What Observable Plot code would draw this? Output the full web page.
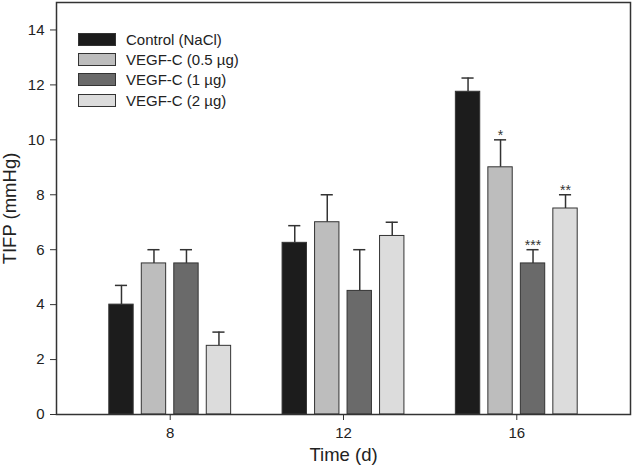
<!DOCTYPE html>
<html>
<head>
<meta charset="utf-8">
<script src="https://cdn.jsdelivr.net/npm/d3@7"></script>
<script src="https://cdn.jsdelivr.net/npm/@observablehq/plot@0.6"></script>
<style>
  html, body { margin: 0; padding: 0; background: #fff; }
  #wrap { position: relative; width: 633px; height: 468px; font-family: "Liberation Sans", Arial, sans-serif; }
  #legend { position: absolute; left: 78px; top: 29px; font-size: 15px; color: #222; }
  #legend .row { display: flex; align-items: center; height: 20.3px; }
  #legend .sw { width: 36px; height: 11px; border: 1px solid #333; margin-right: 10px; }
</style>
</head>
<body>
<div id="wrap"><div id="legend"></div></div>
<script>
// ---- data ----
const days = [8, 12, 16];
const groups = ["Control (NaCl)", "VEGF-C (0.5 µg)", "VEGF-C (1 µg)", "VEGF-C (2 µg)"];
const colors = ["#1c1c1c", "#bdbdbd", "#6a6a6a", "#dcdcdc"];
const control  = [4.0, 6.25, 11.75];
const vegf05   = [5.5, 7.0, 9.0];
const vegf1    = [5.5, 4.5, 5.5];
const vegf2    = [2.5, 6.5, 7.5];
const controlErr = [0.7, 0.625, 0.5];
const vegf05Err  = [0.5, 1.0, 1.0];
const vegf1Err   = [0.5, 1.5, 0.5];
const vegf2Err   = [0.5, 0.5, 0.5];
const controlSig = ["", "", ""];
const vegf05Sig  = ["", "", "*"];
const vegf1Sig   = ["", "", "***"];
const vegf2Sig   = ["", "", "**"];
const yTicks = [0, 2, 4, 6, 8, 10, 12, 14];
const xTicks = [8, 12, 16];

// ---- table ----
const values = [control, vegf05, vegf1, vegf2];
const errs = [controlErr, vegf05Err, vegf1Err, vegf2Err];
const sigs = [controlSig, vegf05Sig, vegf1Sig, vegf2Sig];
const rows = [];
groups.forEach((g, i) => days.forEach((d, j) => rows.push({
  day: d, group: g, i, value: values[i][j], upper: values[i][j] + errs[i][j], sig: sigs[i][j]
})));

const step = 0.75, half = 0.28125, cap = 0.14;
const cx = d => d.day + (d.i - 1.5) * step;

const chart = Plot.plot({
  width: 633,
  height: 468,
  marginLeft: 56,
  marginRight: 3,
  marginTop: 2,
  marginBottom: 54,
  style: { fontFamily: "Liberation Sans, Arial, sans-serif", fontSize: "15px", color: "#222", background: "#fff" },
  x: { type: "linear", domain: [5.375, 18.625] },
  y: { domain: [0, 15] },
  color: { domain: groups, range: colors },
  marks: [
    Plot.ruleX(rows, { x: cx, y1: "value", y2: "upper", stroke: "#333", strokeWidth: 1.5 }),
    Plot.ruleY(rows, { y: "upper", x1: d => cx(d) - cap, x2: d => cx(d) + cap, stroke: "#333", strokeWidth: 1.5 }),
    Plot.rectY(rows, { x1: d => cx(d) - half, x2: d => cx(d) + half, y1: 0, y2: "value", fill: "group", stroke: "#333", strokeWidth: 1 }),
    Plot.text(rows, { x: cx, y: "upper", text: "sig", dy: 0, lineAnchor: "bottom", fontSize: 14, fill: "#333" }),
    Plot.frame({ stroke: "#333", strokeWidth: 1.5 }),
    Plot.axisY({ ticks: yTicks, tickSize: 6, tickPadding: 6, stroke: "#333", label: "TIFP (mmHg)", labelAnchor: "center", labelArrow: "none", labelOffset: 54, fontSize: 15 }),
    Plot.axisX({ ticks: xTicks, tickSize: 6, tickPadding: 7, stroke: "#333", label: "Time (d)", labelAnchor: "center", labelArrow: "none", labelOffset: 46, fontSize: 15, tickFormat: d => String(d) })
  ]
});
document.getElementById("wrap").prepend(chart);

// bigger axis titles
d3.select(chart).selectAll("g[aria-label='x-axis label'], g[aria-label='y-axis label']").attr("font-size", 18.5);

const legend = d3.select("#legend");
groups.forEach((g, i) => {
  const r = legend.append("div").attr("class", "row");
  r.append("div").attr("class", "sw").style("background", colors[i]);
  r.append("span").text(g);
});
</script>
</body>
</html>
